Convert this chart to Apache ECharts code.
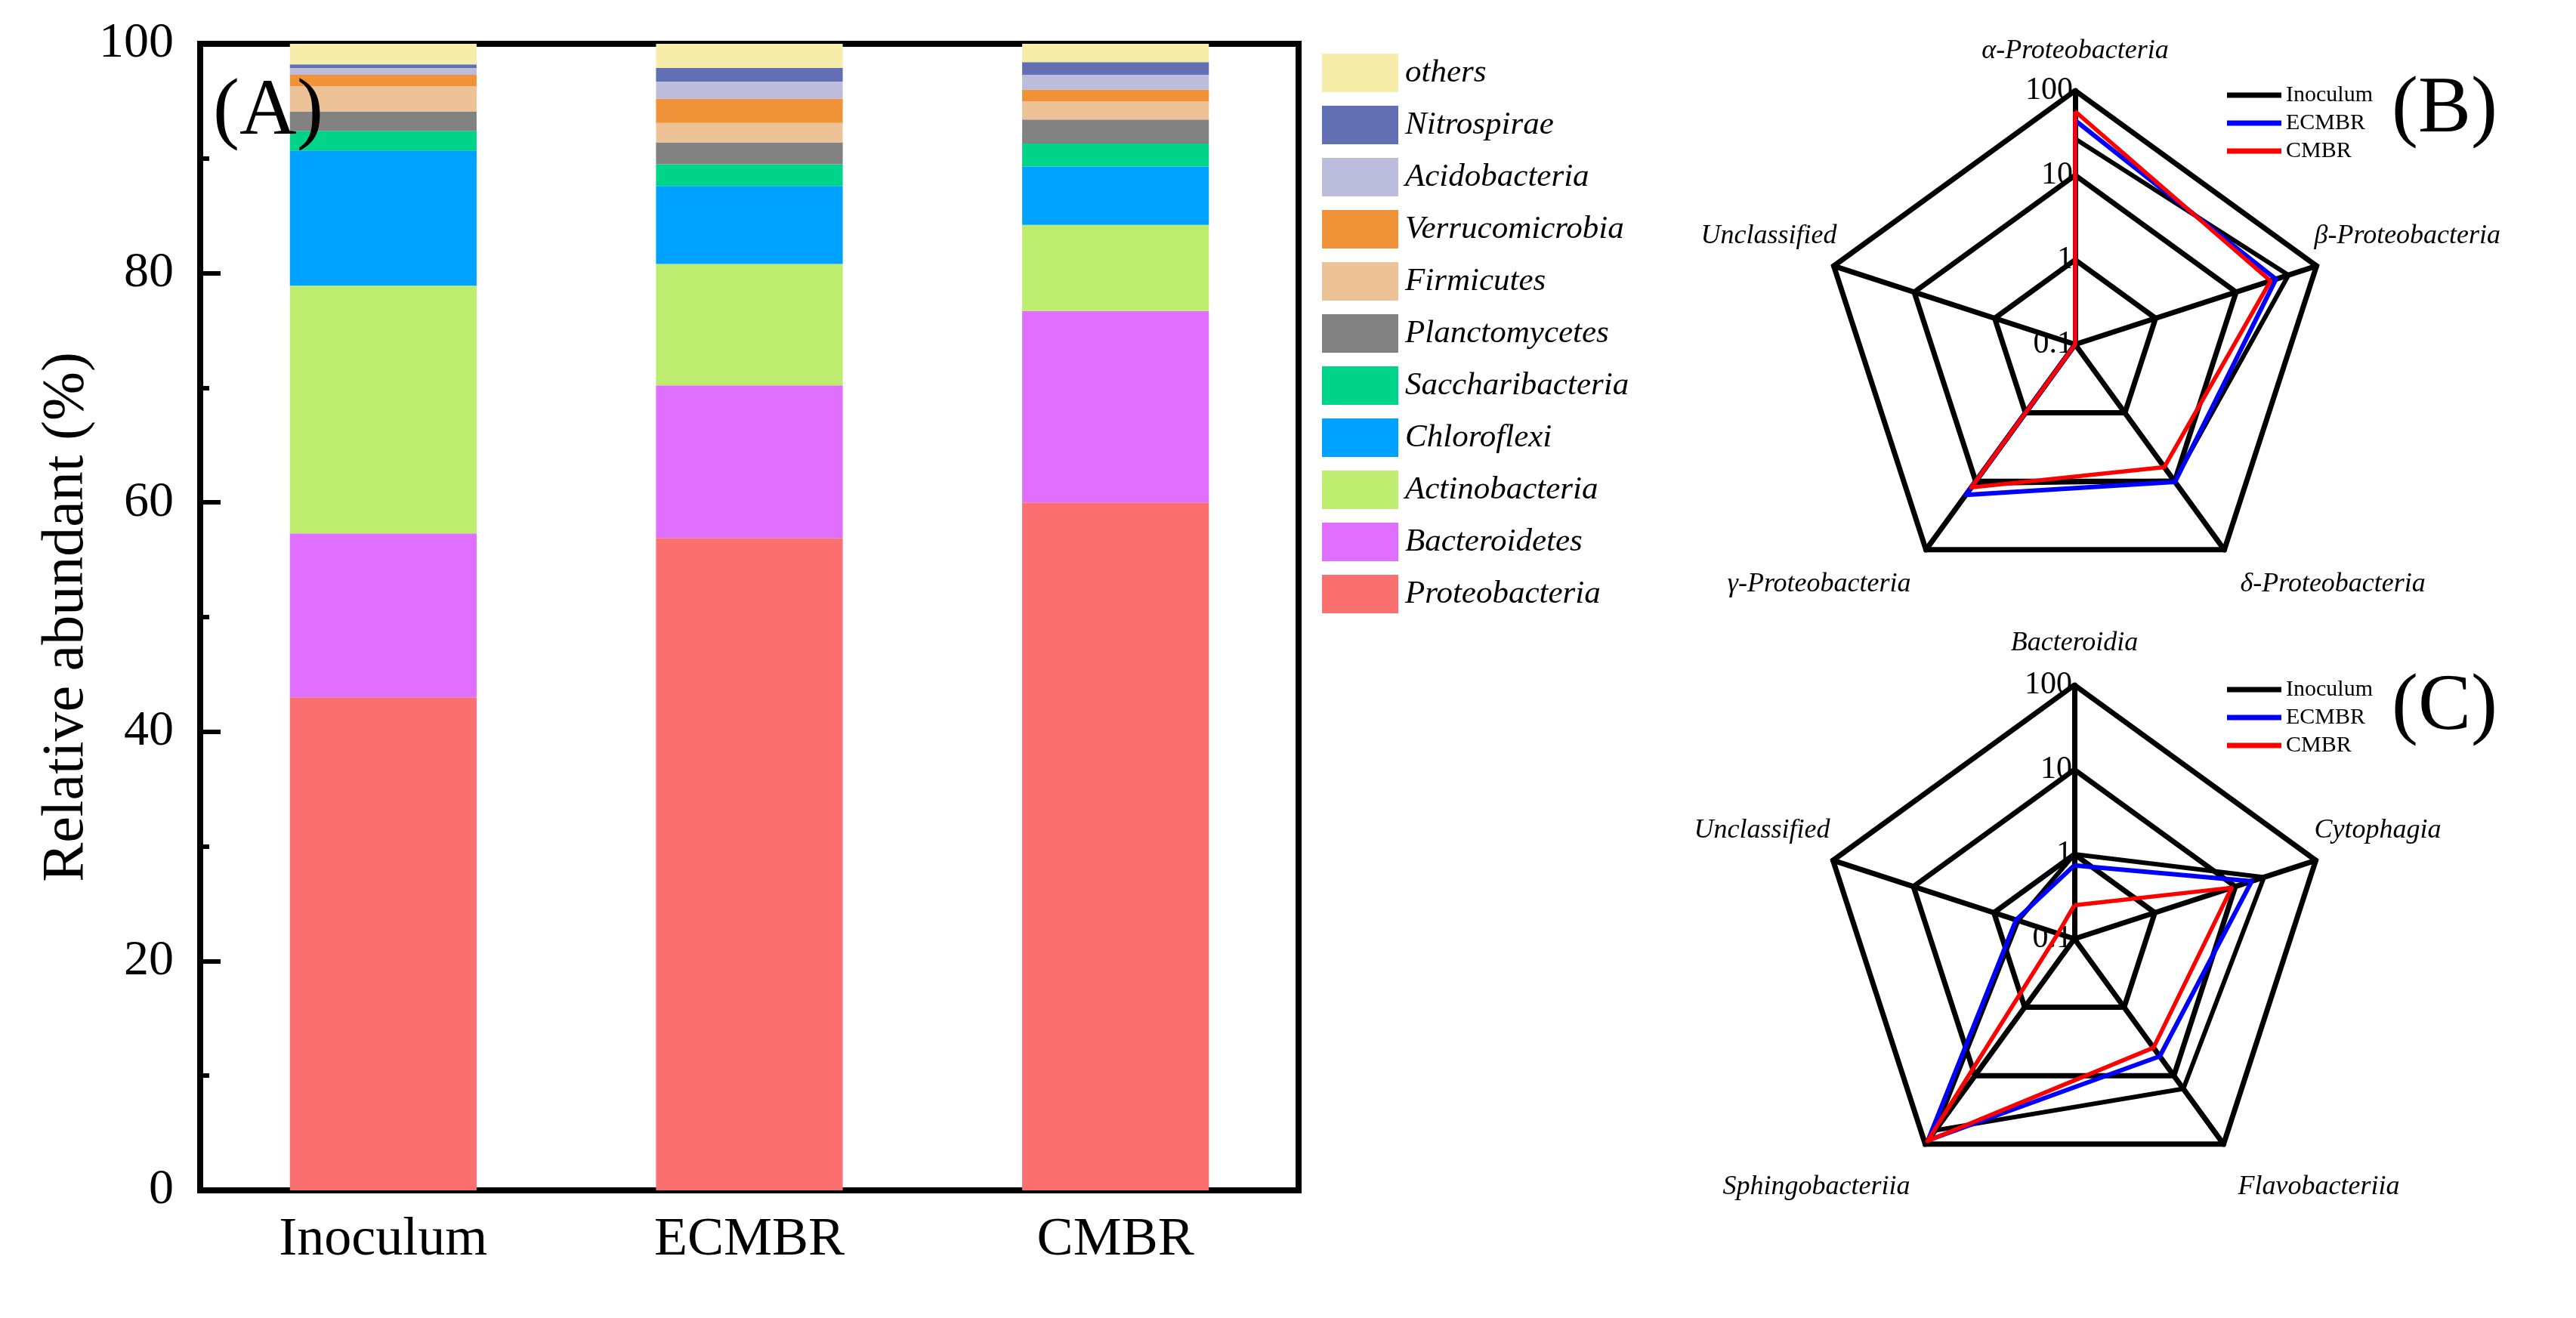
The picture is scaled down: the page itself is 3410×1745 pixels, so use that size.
<!DOCTYPE html>
<html>
<head>
<meta charset="utf-8">
<script src="https://cdn.jsdelivr.net/npm/echarts@6/dist/echarts.min.js"></script>
<style>
html, body { margin: 0; padding: 0; background: #ffffff; }
#chart { width: 3410px; height: 1745px; }
</style>
</head>
<body>
<div id="chart"></div>
<script>
// ---------- Data: panel (A) stacked bars (relative abundance, %) ----------
const categories = ['Inoculum', 'ECMBR', 'CMBR'];
const phyla = ['Proteobacteria', 'Bacteroidetes', 'Actinobacteria', 'Chloroflexi', 'Saccharibacteria',
               'Planctomycetes', 'Firmicutes', 'Verrucomicrobia', 'Acidobacteria', 'Nitrospirae', 'others'];
const proteobacteria   = [43.0, 56.9, 60.0];
const bacteroidetes    = [14.3, 13.3, 16.7];
const actinobacteria   = [21.6, 10.6, 7.5];
const chloroflexi      = [11.8, 6.8, 5.1];
const saccharibacteria = [1.7, 1.9, 2.0];
const planctomycetes   = [1.7, 1.9, 2.1];
const firmicutes       = [2.2, 1.7, 1.6];
const verrucomicrobia  = [1.0, 2.1, 1.0];
const acidobacteria    = [0.6, 1.5, 1.3];
const nitrospirae      = [0.3, 1.2, 1.1];
const others           = [1.8, 2.1, 1.6];
const yTicks = [0, 20, 40, 60, 80, 100];

// ---------- Data: panel (B) Proteobacteria classes (%), radar order (counter-clockwise from top) ----------
const classesB = ['α-Proteobacteria', 'Unclassified', 'γ-Proteobacteria', 'δ-Proteobacteria', 'β-Proteobacteria'];
const inoculumB = [27.0, 0.1, 10.8, 9.8, 44.8];
const ecmbrB    = [44.5, 0.1, 15.8, 10.2, 31.3];
const cmbrB     = [56.8, 0.1, 12.3, 6.2, 26.8];

// ---------- Data: panel (C) Bacteroidetes classes (%), radar order ----------
const classesC = ['Bacteroidia', 'Unclassified', 'Sphingobacteriia', 'Flavobacteriia', 'Cytophagia'];
const inoculumC = [1.0, 0.5, 63.0, 15.5, 22.7];
const ecmbrC    = [0.74, 0.53, 88.0, 5.2, 16.0];
const cmbrC     = [0.25, 0.16, 90.0, 3.9, 9.0];

const radarTicks = ['0.1', '1', '10', '100'];
const groups = ['Inoculum', 'ECMBR', 'CMBR'];

// ---------- Styles / layout ----------
const FONT = "'Liberation Serif', 'Times New Roman', serif";
const phylumColors = {
  Proteobacteria: '#FA6F6F', Bacteroidetes: '#E06FFF', Actinobacteria: '#BDEC6E', Chloroflexi: '#00A2FF',
  Saccharibacteria: '#00D38A', Planctomycetes: '#828282', Firmicutes: '#EDC296', Verrucomicrobia: '#F09238',
  Acidobacteria: '#BCBDDC', Nitrospirae: '#6270B3', others: '#F5EDA9'
};
const phylumData = {
  Proteobacteria: proteobacteria, Bacteroidetes: bacteroidetes, Actinobacteria: actinobacteria,
  Chloroflexi: chloroflexi, Saccharibacteria: saccharibacteria, Planctomycetes: planctomycetes,
  Firmicutes: firmicutes, Verrucomicrobia: verrucomicrobia, Acidobacteria: acidobacteria,
  Nitrospirae: nitrospirae, others: others
};
const groupColors = { Inoculum: '#000000', ECMBR: '#0000FF', CMBR: '#FF0000' };
const groupWidths = { Inoculum: 6, ECMBR: 6, CMBR: 5.5 };

const RADAR_R = 336;
const radarCenters = [[2747, 456], [2746, 1243]];
// name label offsets relative to each pentagon vertex: [dx, dy, align]
const nameOffsetsB = [[0, -52, 'center'], [4, -40, 'right'], [-20, 46, 'right'], [21, 46, 'left'], [-3, -40, 'left']];
const nameOffsetsC = [[0, -55, 'center'], [-4, -40, 'right'], [-20, 57, 'right'], [19, 57, 'left'], [-2, -40, 'left']];

const log10 = v => Math.log10(v);
const tickFormatter = v => {
  const i = Math.round(v) + 1;
  return radarTicks[i] !== undefined ? radarTicks[i] : '';
};

function makeRadar(center, names) {
  return {
    center: center,
    radius: RADAR_R,
    startAngle: 90,
    shape: 'polygon',
    splitNumber: 3,
    indicator: names.map((n, i) => (i === 0
      ? { name: n, min: -1, max: 2 }
      : { name: n, min: -1, max: 2, axisLabel: { show: false } })),
    axisName: { show: false },
    axisLine: { show: true, lineStyle: { color: '#000', width: 7 } },
    splitLine: { show: true, lineStyle: { color: '#000', width: 7 } },
    splitArea: { show: false },
    axisTick: { show: false },
    axisLabel: { show: true, color: '#000', fontFamily: FONT, fontSize: 42, margin: 3, formatter: tickFormatter }
  };
}

function makeRadarSeries(radarIndex, arrays) {
  return {
    type: 'radar',
    radarIndex: radarIndex,
    symbol: 'none',
    silent: true,
    z: 3,
    data: groups.map((g, i) => ({
      name: g,
      value: arrays[i].map(log10),
      lineStyle: { color: groupColors[g], width: groupWidths[g] },
      itemStyle: { color: groupColors[g] }
    }))
  };
}

function radarNameTexts(center, names, offsets) {
  return names.map((n, i) => {
    const ang = (90 + i * 72) * Math.PI / 180;
    const vx = center[0] + RADAR_R * Math.cos(ang);
    const vy = center[1] - RADAR_R * Math.sin(ang);
    const o = offsets[i];
    return {
      type: 'text', x: vx + o[0], y: vy + o[1], z: 10,
      style: { text: n, font: 'italic 36px ' + FONT, fill: '#000', textAlign: o[2], textVerticalAlign: 'middle' }
    };
  });
}

const barSeries = phyla.map(p => ({
  name: p,
  type: 'bar',
  stack: 'total',
  barWidth: '51%',
  data: phylumData[p],
  itemStyle: { color: phylumColors[p] },
  emphasis: { disabled: true }
}));

const radarLegend = top => ({
  data: groups,
  orient: 'vertical',
  left: 2943,
  top: top,
  icon: 'rect',
  itemWidth: 72,
  itemHeight: 7,
  itemGap: 7,
  textStyle: { fontFamily: FONT, fontSize: 30, color: '#000', lineHeight: 30, padding: [0, 0, 0, 1] }
});

const option = {
  backgroundColor: '#ffffff',
  animation: false,
  grid: {
    left: 265, right: 3410 - 1719, top: 58, bottom: 1745 - 1576,
    show: true, borderColor: '#000', borderWidth: 8, backgroundColor: 'transparent',
    containLabel: false, outerBoundsMode: 'none'
  },
  xAxis: {
    type: 'category',
    data: categories,
    axisLine: { show: true, lineStyle: { color: '#000', width: 8 } },
    axisTick: { show: false },
    axisLabel: { fontFamily: FONT, fontSize: 72, color: '#000', margin: 30 }
  },
  yAxis: {
    type: 'value',
    min: yTicks[0],
    max: yTicks[yTicks.length - 1],
    interval: 20,
    name: 'Relative abundant (%)',
    nameLocation: 'middle',
    nameGap: 136,
    nameTextStyle: { fontFamily: FONT, fontSize: 78, color: '#000' },
    axisLine: { show: true, lineStyle: { color: '#000', width: 8 } },
    axisTick: { show: true, inside: true, length: 27, lineStyle: { color: '#000', width: 6 } },
    minorTick: { show: true, splitNumber: 2, length: 12, lineStyle: { color: '#000', width: 6 } },
    splitLine: { show: false },
    axisLabel: { fontFamily: FONT, fontSize: 66, color: '#000', margin: 35 }
  },
  legend: [
    {
      data: phyla.slice().reverse(),
      orient: 'vertical',
      left: 1745,
      top: 66,
      icon: 'rect',
      itemWidth: 101,
      itemHeight: 51,
      itemGap: 18,
      textStyle: { fontFamily: FONT, fontStyle: 'italic', fontSize: 43, color: '#000', padding: [0, 0, 0, 4] }
    },
    radarLegend(106),
    radarLegend(893)
  ],
  radar: [
    makeRadar(radarCenters[0], classesB),
    makeRadar(radarCenters[1], classesC)
  ],
  series: barSeries.concat([
    makeRadarSeries(0, [inoculumB, ecmbrB, cmbrB]),
    makeRadarSeries(1, [inoculumC, ecmbrC, cmbrC])
  ]),
  graphic: [
    { type: 'text', x: 355, y: 149, z: 100, style: { text: '(A)', font: '105px ' + FONT, fill: '#000', textAlign: 'center', textVerticalAlign: 'middle' } },
    { type: 'text', x: 3236, y: 146, z: 100, style: { text: '(B)', font: '105px ' + FONT, fill: '#000', textAlign: 'center', textVerticalAlign: 'middle' } },
    { type: 'text', x: 3236, y: 937, z: 100, style: { text: '(C)', font: '105px ' + FONT, fill: '#000', textAlign: 'center', textVerticalAlign: 'middle' } }
  ].concat(radarNameTexts(radarCenters[0], classesB, nameOffsetsB))
   .concat(radarNameTexts(radarCenters[1], classesC, nameOffsetsC))
};

const chart = echarts.init(document.getElementById('chart'), null, { renderer: 'canvas' });
chart.setOption(option);
</script>
</body>
</html>
